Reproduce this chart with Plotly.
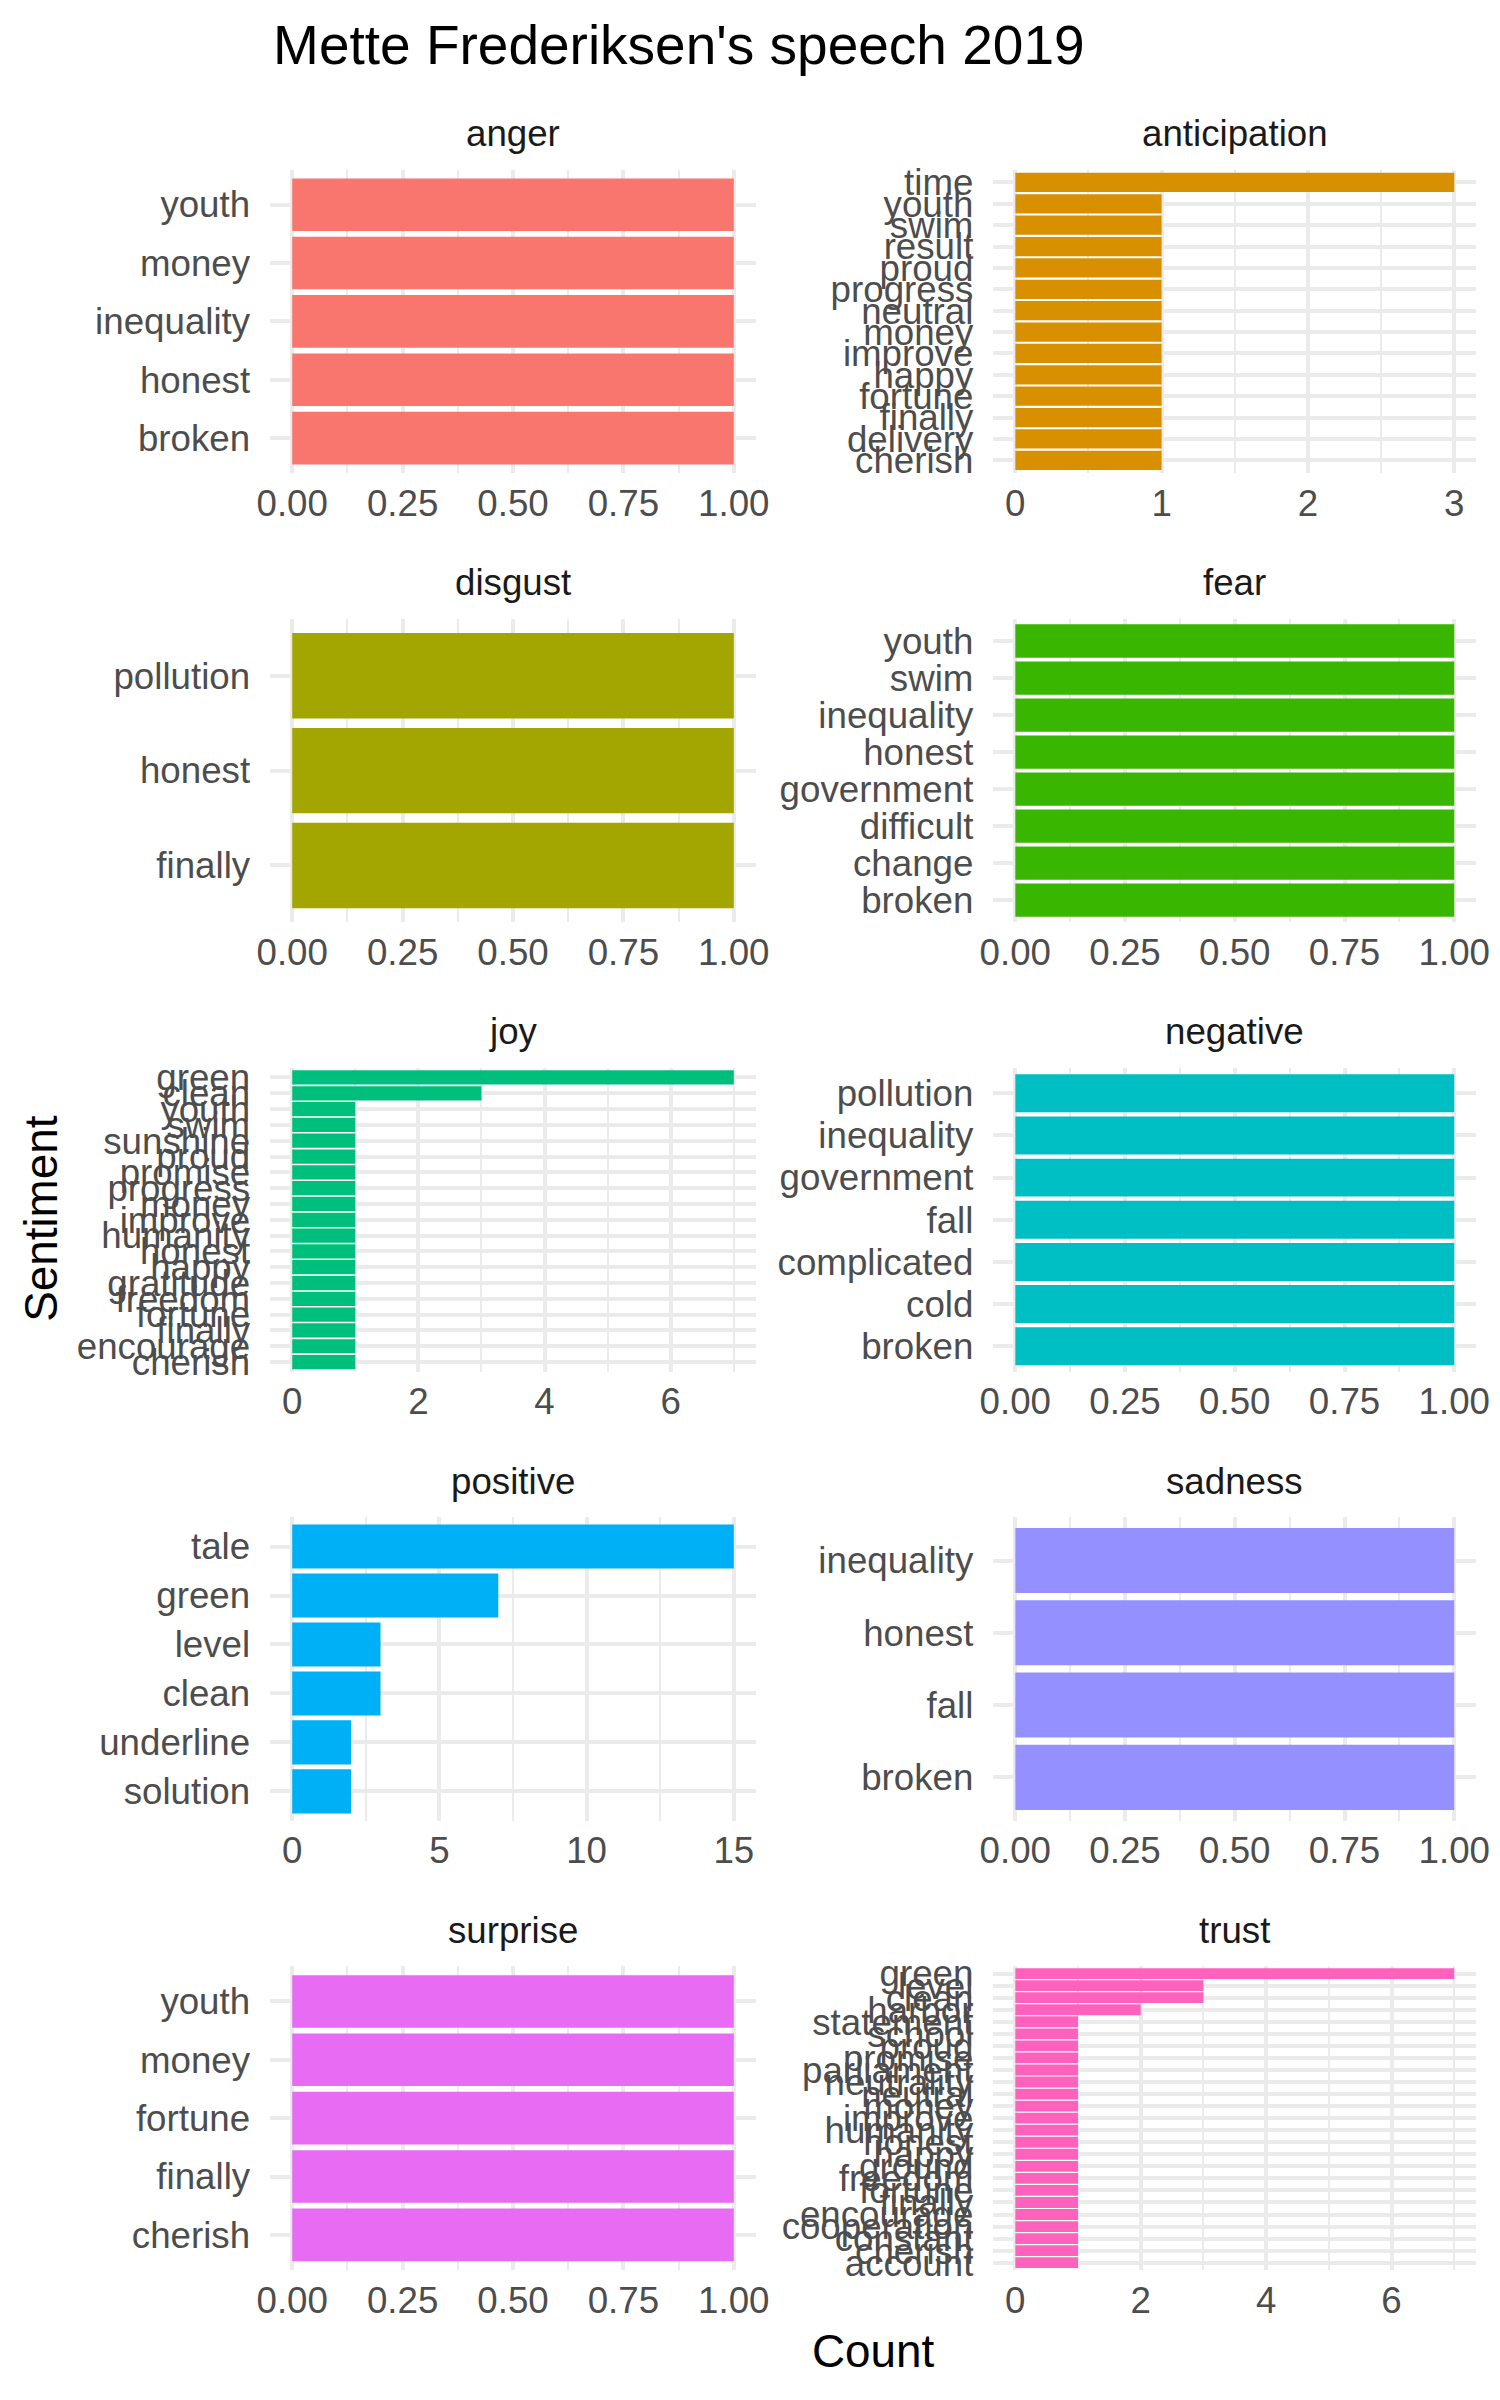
import plotly.graph_objects as go

# ---------------- data ----------------
sentiments = ["anger", "anticipation", "disgust", "fear", "joy",
              "negative", "positive", "sadness", "surprise", "trust"]

anger_words = ["youth", "money", "inequality", "honest", "broken"]
anger_counts = [1, 1, 1, 1, 1]

anticipation_words = ["time", "youth", "swim", "result", "proud", "progress", "neutral",
                      "money", "improve", "happy", "fortune", "finally", "delivery", "cherish"]
anticipation_counts = [3, 1, 1, 1, 1, 1, 1, 1, 1, 1, 1, 1, 1, 1]

disgust_words = ["pollution", "honest", "finally"]
disgust_counts = [1, 1, 1]

fear_words = ["youth", "swim", "inequality", "honest", "government", "difficult",
              "change", "broken"]
fear_counts = [1, 1, 1, 1, 1, 1, 1, 1]

joy_words = ["green", "clean", "youth", "swim", "sunshine", "proud", "promise", "progress",
             "money", "improve", "humanity", "honest", "happy", "gratitude", "freedom",
             "fortune", "finally", "encourage", "cherish"]
joy_counts = [7, 3, 1, 1, 1, 1, 1, 1, 1, 1, 1, 1, 1, 1, 1, 1, 1, 1, 1]

negative_words = ["pollution", "inequality", "government", "fall", "complicated",
                  "cold", "broken"]
negative_counts = [1, 1, 1, 1, 1, 1, 1]

positive_words = ["tale", "green", "level", "clean", "underline", "solution"]
positive_counts = [15, 7, 3, 3, 2, 2]

sadness_words = ["inequality", "honest", "fall", "broken"]
sadness_counts = [1, 1, 1, 1]

surprise_words = ["youth", "money", "fortune", "finally", "cherish"]
surprise_counts = [1, 1, 1, 1, 1]

trust_words = ["green", "level", "clean", "harbor", "statement", "school", "proud",
               "promise", "parliament", "neutrality", "neutral", "money", "improve",
               "humanity", "honest", "happy", "ground", "freedom", "fortune", "finally",
               "encourage", "cooperation", "constant", "cherish", "account"]
trust_counts = [7, 3, 3, 2, 1, 1, 1, 1, 1, 1, 1, 1, 1, 1, 1, 1, 1, 1, 1, 1, 1, 1, 1, 1, 1]

# tick values per panel
ticks_unit = [0, 0.25, 0.5, 0.75, 1.0]
ticks_unit_text = ["0.00", "0.25", "0.50", "0.75", "1.00"]
ticks_anticipation = [0, 1, 2, 3]
ticks_joy = [0, 2, 4, 6]
ticks_positive = [0, 5, 10, 15]
ticks_trust = [0, 2, 4, 6]

colors = ["#F8766D", "#D89000", "#A3A500", "#39B600", "#00BF7D",
          "#00BFC4", "#00B0F6", "#9590FF", "#E76BF3", "#FF62BC"]

panels = [
    (anger_words, anger_counts, ticks_unit, ticks_unit_text),
    (anticipation_words, anticipation_counts, ticks_anticipation, None),
    (disgust_words, disgust_counts, ticks_unit, ticks_unit_text),
    (fear_words, fear_counts, ticks_unit, ticks_unit_text),
    (joy_words, joy_counts, ticks_joy, None),
    (negative_words, negative_counts, ticks_unit, ticks_unit_text),
    (positive_words, positive_counts, ticks_positive, None),
    (sadness_words, sadness_counts, ticks_unit, ticks_unit_text),
    (surprise_words, surprise_counts, ticks_unit, ticks_unit_text),
    (trust_words, trust_counts, ticks_trust, None),
]

# ---------------- layout geometry (figure px) ----------------
W, H = 1500, 2400
col_x = [(261, 756), (998, 1490)]
row_top = [158.4 + 454.3 * r for r in range(5)]
row_h = 307

def fx(p):
    return p / W

def fy(p):
    return 1 - p / H

FONT = "Liberation Sans, Arial, Helvetica, sans-serif"
TICK_SIZE = 36.7
GRID = "#EBEBEB"

fig = go.Figure()
layout = dict(
    width=W, height=H, autosize=False,
    margin=dict(l=0, r=0, t=0, b=0, pad=0),
    paper_bgcolor="white", plot_bgcolor="white",
    font=dict(family=FONT, color="#4D4D4D"),
    showlegend=False,
    bargap=0.1,
)
annotations = []

for i, (name, (words, counts, tvals, ttext)) in enumerate(zip(sentiments, panels)):
    k = i + 1
    r, c = divmod(i, 2)
    x0, x1 = col_x[c]
    top = row_top[r]
    bot = top + row_h
    xa = "x" if k == 1 else f"x{k}"
    ya = "y" if k == 1 else f"y{k}"
    fig.add_trace(go.Bar(
        x=counts, y=words, orientation="h",
        marker=dict(color=colors[i], line=dict(width=0)),
        width=0.9, xaxis=xa, yaxis=ya, showlegend=False,
        hoverinfo="x+y",
    ))
    m = max(counts)
    step = tvals[1] - tvals[0]
    minor_vals = [t + step / 2 for t in tvals if t + step / 2 <= 1.05 * m]
    xkey = "xaxis" if k == 1 else f"xaxis{k}"
    ykey = "yaxis" if k == 1 else f"yaxis{k}"
    layout[xkey] = dict(
        domain=[fx(x0), fx(x1)], anchor=ya,
        range=[-0.05 * m, 1.05 * m], fixedrange=True,
        tickmode="array", tickvals=tvals,
        ticktext=ttext if ttext else [str(t) for t in tvals],
        showgrid=True, gridcolor=GRID, gridwidth=4,
        minor=dict(tickmode="array", tickvals=minor_vals, showgrid=True,
                   gridcolor=GRID, gridwidth=2, ticks=""),
        zeroline=False, showline=False, ticks="",
        ticklabelstandoff=5,
        tickfont=dict(size=TICK_SIZE, color="#4D4D4D", family=FONT),
    )
    n = len(words)
    layout[ykey] = dict(
        domain=[fy(bot), fy(top)], anchor=xa,
        type="category", categoryorder="array", categoryarray=words,
        range=[n - 0.4, -0.6], fixedrange=True,
        tickmode="array", tickvals=words, ticktext=words,
        showgrid=True, gridcolor=GRID, gridwidth=4,
        zeroline=False, showline=False, ticks="",
        ticklabelstandoff=19,
        tickfont=dict(size=TICK_SIZE, color="#4D4D4D", family=FONT),
    )
    annotations.append(dict(
        text=name, x=fx((x0 + x1) / 2), y=fy(top - 36.5),
        xref="paper", yref="paper", xanchor="center", yanchor="middle",
        showarrow=False, font=dict(size=TICK_SIZE, color="#1A1A1A", family=FONT),
    ))

annotations.append(dict(
    text="Count", x=fx((col_x[0][0] + col_x[1][1]) / 2), y=fy(2365),
    xref="paper", yref="paper",
    xanchor="center", yanchor="middle", showarrow=False,
    font=dict(size=45.8, color="black", family=FONT),
))
annotations.append(dict(
    text="Sentiment", x=fx(28), y=fy(1219), xref="paper", yref="paper",
    xanchor="center", yanchor="middle", showarrow=False, textangle=-90,
    font=dict(size=45.8, color="black", family=FONT),
))

layout["annotations"] = annotations
layout["title"] = dict(
    text="Mette Frederiksen's speech 2019",
    x=fx(264), xref="paper", xanchor="left",
    y=fy(32), yref="paper", yanchor="middle",
    font=dict(size=55, color="black", family=FONT),
)

fig.update_layout(**layout)
fig.write_html("out.html")
